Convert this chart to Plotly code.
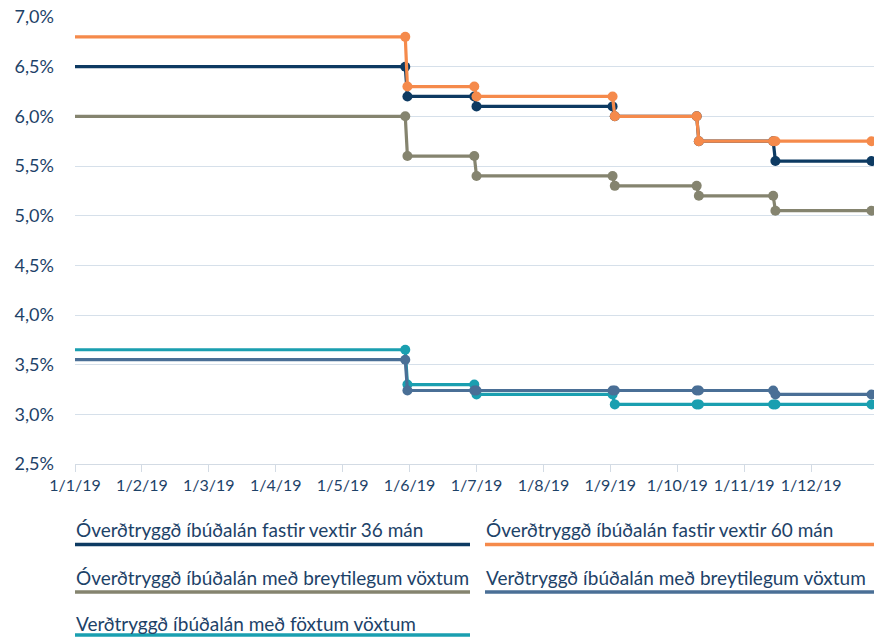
import calendar
import plotly.graph_objects as go

# ---------------- data ----------------
dates = ["2019-01-01", "2019-05-30", "2019-05-31", "2019-06-30", "2019-07-01",
         "2019-09-02", "2019-09-03", "2019-10-10", "2019-10-11",
         "2019-11-14", "2019-11-15", "2019-12-29"]

names = [
    "Óverðtryggð íbúðalán fastir vextir 36 mán",
    "Óverðtryggð íbúðalán fastir vextir 60 mán",
    "Óverðtryggð íbúðalán með breytilegum vöxtum",
    "Verðtryggð íbúðalán með breytilegum vöxtum",
    "Verðtryggð íbúðalán með föxtum vöxtum",
]

fixed36 = [6.5, 6.5, 6.2, 6.2, 6.1, 6.1, 6.0, 6.0, 5.75, 5.75, 5.55, 5.55]
fixed60 = [6.8, 6.8, 6.3, 6.3, 6.2, 6.2, 6.0, 6.0, 5.75, 5.75, 5.75, 5.75]
variable_nonidx = [6.0, 6.0, 5.6, 5.6, 5.4, 5.4, 5.3, 5.3, 5.2, 5.2, 5.05, 5.05]
variable_idx = [3.55, 3.55, 3.24, 3.24, 3.24, 3.24, 3.24, 3.24, 3.24, 3.24, 3.2, 3.2]
fixed_idx = [3.65, 3.65, 3.3, 3.3, 3.2, 3.2, 3.1, 3.1, 3.1, 3.1, 3.1, 3.1]

series = [fixed36, fixed60, variable_nonidx, variable_idx, fixed_idx]
colors = ["#0d3a62", "#f58a4b", "#85846f", "#4a6f96", "#1a9fb0"]

y_ticks = [2.5, 3.0, 3.5, 4.0, 4.5, 5.0, 5.5, 6.0, 6.5, 7.0]
y_ticklabels = ["2,5%", "3,0%", "3,5%", "4,0%", "4,5%", "5,0%", "5,5%", "6,0%", "6,5%", "7,0%"]
x_months = list(range(1, 13))
x_ticklabels = ["1/%d/19" % m for m in x_months]


# the axis of the original gives every month the same width
def month_pos(d):
    y, m, day = (int(p) for p in d.split("-"))
    return (m - 1) + (day - 1) / calendar.monthrange(y, m)[1]


xpos = [month_pos(d) for d in dates]
x_tickvals = [m - 1 for m in x_months]

# ---------------- figure ----------------
W, H = 874, 637
ML, MR, MT, MB = 75, 0, 17, 173
FONT = "Lato"
TXT = "#1d4268"

fig = go.Figure()
draw_order = [0, 1, 2, 4, 3]
for i in draw_order:
    msize = [0] + [10] * (len(dates) - 1)
    fig.add_trace(go.Scatter(
        x=xpos, y=series[i], mode="lines+markers", name=names[i],
        customdata=dates, hovertemplate="%{customdata}: %{y}%<extra></extra>",
        line=dict(color=colors[i], width=3.2),
        marker=dict(color=colors[i], size=msize, opacity=1,
                    line=dict(width=0, color=colors[i])),
        showlegend=False, cliponaxis=False,
    ))

plot_h = H - MT - MB
plot_w = W - ML - MR


def px_to_paper_y(py):
    return (H - MB - py) / plot_h


def px_to_paper_x(px):
    return (px - ML) / plot_w


# custom legend: text with thick underline
legend_pos = [  # (x0, x1, text_center_y, line_y)
    (75, 470, 529, 544.5),
    (485, 880, 529, 544.5),
    (75, 470, 577, 592),
    (485, 880, 577, 592),
    (75, 470, 623, 635),
]
for i, (x0, x1, ty, ly) in enumerate(legend_pos):
    fig.add_annotation(
        x=px_to_paper_x(x0 - 1), y=px_to_paper_y(ty), xref="paper", yref="paper",
        text=names[i], showarrow=False, xanchor="left", yanchor="middle",
        font=dict(family=FONT, size=19, color=TXT),
    )
    fig.add_shape(
        type="line", xref="paper", yref="paper",
        x0=px_to_paper_x(x0), x1=px_to_paper_x(x1),
        y0=px_to_paper_y(ly), y1=px_to_paper_y(ly),
        line=dict(color=colors[i], width=3.5),
    )

fig.update_layout(
    width=W, height=H,
    margin=dict(l=ML, r=MR, t=MT, b=MB, autoexpand=False),
    paper_bgcolor="white", plot_bgcolor="white",
    showlegend=False,
    font=dict(family=FONT, color=TXT),
    xaxis=dict(
        range=[0, 11.94],
        tickvals=x_tickvals, ticktext=x_ticklabels, tickangle=0,
        automargin=False,
        showgrid=False, zeroline=False,
        showline=True, linecolor="#d3dbe4", linewidth=1,
        ticks="outside", ticklen=7, tickcolor="#d3dbe4", tickwidth=1,
        tickfont=dict(family=FONT, size=16, color=TXT),
    ),
    yaxis=dict(
        range=[2.5, 7.0], tickvals=y_ticks, ticktext=y_ticklabels,
        automargin=False,
        showgrid=True, gridcolor="#d6e0ea", gridwidth=1,
        zeroline=False, showline=False, ticks="",
        ticklabelstandoff=20,
        tickfont=dict(family=FONT, size=18, color=TXT),
    ),
)

fig.write_html(
    "out.html",
    config={"displayModeBar": False},
    post_script="document.body.style.margin='0px';document.body.style.overflow='hidden';",
)
